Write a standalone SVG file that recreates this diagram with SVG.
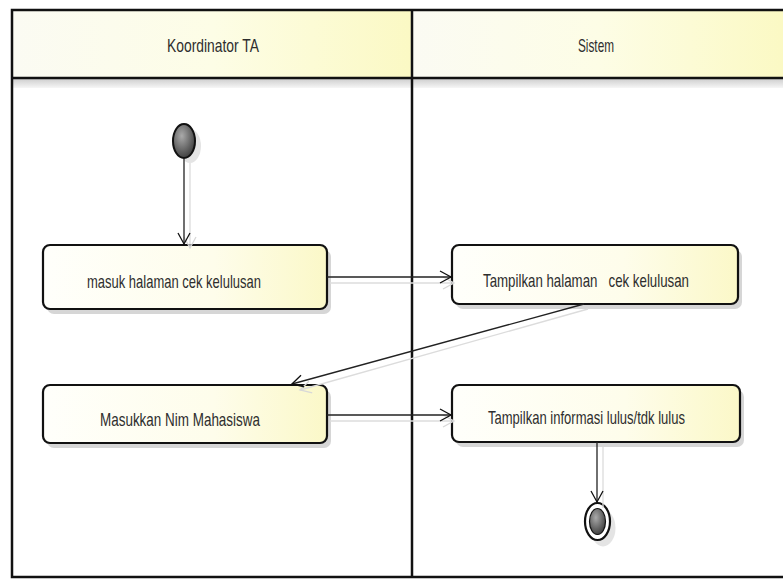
<svg xmlns="http://www.w3.org/2000/svg" width="783" height="581" viewBox="0 0 783 581">
<defs>
<linearGradient id="hdr" x1="0" y1="0" x2="1" y2="0">
<stop offset="0" stop-color="#fbfbf3"/>
<stop offset="0.5" stop-color="#fdfde6"/>
<stop offset="1" stop-color="#fbf9c4"/>
</linearGradient>
<linearGradient id="box" x1="0" y1="0" x2="1" y2="0">
<stop offset="0" stop-color="#fffffb"/>
<stop offset="0.6" stop-color="#fefdeb"/>
<stop offset="1" stop-color="#fbf8c8"/>
</linearGradient>
<linearGradient id="band" x1="0" y1="0" x2="0" y2="1">
<stop offset="0" stop-color="#cfcfcf"/>
<stop offset="1" stop-color="#f6f6f6"/>
</linearGradient>
<radialGradient id="ball" cx="0.4" cy="0.35" r="0.7">
<stop offset="0" stop-color="#aaaaaa"/>
<stop offset="1" stop-color="#3a3a3a"/>
</radialGradient>
<marker id="arr" markerWidth="14" markerHeight="14" refX="12" refY="7" orient="auto" markerUnits="userSpaceOnUse">
<path d="M1,1 L12,7 L1,13" fill="none" stroke="#111" stroke-width="1.3"/>
</marker>
<marker id="arrs" markerWidth="14" markerHeight="14" refX="12" refY="7" orient="auto" markerUnits="userSpaceOnUse">
<path d="M1,1 L12,7 L1,13" fill="none" stroke="#d8d8d8" stroke-width="1.3"/>
</marker>
</defs>
<style>
.lbl{font-family:"Liberation Sans",Arial,sans-serif;font-size:19px;fill:#2e2e2e;}
.act{fill:url(#box);stroke:#111;stroke-width:2.2;}
.shd{fill:#d6d6d6;}
.cn{fill:none;stroke:#222;stroke-width:1.3;}
.cs{fill:none;stroke:#dcdcdc;stroke-width:1.3;}
.frame{fill:none;stroke:#111;stroke-width:2.5;}
</style>
<rect width="783" height="581" fill="#ffffff"/>
<g id="swimlanes">
<rect x="12" y="10" width="400" height="68" fill="url(#hdr)"/>
<rect x="412" y="10" width="371" height="68" fill="url(#hdr)"/>
<rect x="12" y="79" width="771" height="9" fill="url(#band)"/>
<rect x="12" y="10" width="780" height="567" class="frame"/>
<line x1="12" y1="78" x2="783" y2="78" stroke="#111" stroke-width="2.5"/>
<line x1="412" y1="10" x2="412" y2="577" stroke="#111" stroke-width="2.5"/>
<text class="lbl" x="213" y="52" text-anchor="middle" textLength="92" lengthAdjust="spacingAndGlyphs">Koordinator TA</text>
<text class="lbl" x="596" y="52" text-anchor="middle" textLength="36" lengthAdjust="spacingAndGlyphs">Sistem</text>
</g>
<g id="start">
<ellipse cx="190" cy="146" rx="11" ry="17" fill="#e4e4e4"/>
<ellipse cx="184" cy="141" rx="11" ry="17" fill="url(#ball)" stroke="#111" stroke-width="2"/>
</g>
<g id="n1">
<rect x="47" y="250" width="284" height="64" rx="7" class="shd"/>
<rect x="43" y="245" width="284" height="64" rx="7" class="act"/>
<text class="lbl" x="87" y="288" textLength="174" lengthAdjust="spacingAndGlyphs">masuk halaman cek kelulusan</text>
</g>
<g id="n2">
<rect x="456" y="250" width="286" height="59" rx="7" class="shd"/>
<rect x="452" y="245" width="286" height="59" rx="7" class="act"/>
<text class="lbl" x="483" y="287" textLength="206" lengthAdjust="spacingAndGlyphs" xml:space="preserve">Tampilkan halaman   cek kelulusan</text>
</g>
<g id="n3">
<rect x="47" y="390" width="284" height="58" rx="7" class="shd"/>
<rect x="43" y="385" width="284" height="58" rx="7" class="act"/>
<text class="lbl" x="100" y="426" textLength="160" lengthAdjust="spacingAndGlyphs">Masukkan Nim Mahasiswa</text>
</g>
<g id="n4">
<rect x="456" y="390" width="288" height="57" rx="7" class="shd"/>
<rect x="452" y="385" width="288" height="57" rx="7" class="act"/>
<text class="lbl" x="488" y="424" textLength="197" lengthAdjust="spacingAndGlyphs">Tampilkan informasi lulus/tdk lulus</text>
</g>
<g id="end">
<ellipse cx="603" cy="528" rx="12.5" ry="18.5" fill="#e4e4e4"/>
<ellipse cx="597.5" cy="521.5" rx="12.5" ry="18.5" fill="#fff" stroke="#111" stroke-width="2.2"/>
<ellipse cx="597.5" cy="521.5" rx="8" ry="13" fill="url(#ball)" stroke="#111" stroke-width="1.2"/>
</g>
<g id="connectors">
<line x1="190" y1="163" x2="190" y2="248" class="cs" marker-end="url(#arrs)"/>
<line x1="184" y1="158" x2="184" y2="244" class="cn" marker-end="url(#arr)"/>
<line x1="330" y1="283" x2="454" y2="283" class="cs" marker-end="url(#arrs)"/>
<line x1="327" y1="277" x2="451" y2="277" class="cn" marker-end="url(#arr)"/>
<line x1="588" y1="309" x2="300" y2="390" class="cs" marker-end="url(#arrs)"/>
<line x1="584" y1="304" x2="292" y2="384" class="cn" marker-end="url(#arr)"/>
<line x1="330" y1="421" x2="454" y2="421" class="cs" marker-end="url(#arrs)"/>
<line x1="327" y1="415" x2="451" y2="415" class="cn" marker-end="url(#arr)"/>
<line x1="603" y1="447" x2="603" y2="508" class="cs"/>
<line x1="597" y1="442" x2="597" y2="502" class="cn" marker-end="url(#arr)"/>
</g>
</svg>
